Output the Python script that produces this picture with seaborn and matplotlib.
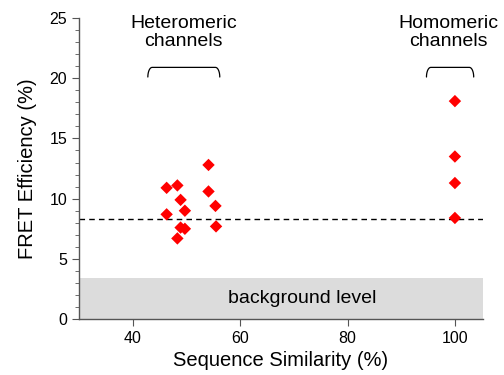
import numpy as np
import pandas as pd
import matplotlib
matplotlib.use("Agg")
import matplotlib.pyplot as plt
import seaborn as sns
from matplotlib.ticker import MultipleLocator

# --- data ---
hetero_x = [54.1, 46.3, 48.3, 54.1, 48.9, 49.7, 55.4, 46.3, 48.9, 49.7, 55.5, 48.3]
hetero_y = [12.8, 10.9, 11.1, 10.6, 9.9, 9.0, 9.4, 8.7, 7.6, 7.5, 7.7, 6.7]
homo_x = [100, 100, 100, 100]
homo_y = [18.1, 13.5, 11.3, 8.4]
threshold = 8.3
background = 3.4
bracket_hetero = (42.8, 56.2)
bracket_homo = (94.7, 103.5)

df = pd.DataFrame({
    "similarity": hetero_x + homo_x,
    "fret": hetero_y + homo_y,
})

sns.set_style("ticks")
plt.rcParams["font.family"] = ["Liberation Sans", "DejaVu Sans"]

fig = plt.figure(figsize=(5.04, 3.75), dpi=100)
ax = fig.add_axes([0.157, 0.149, 0.801, 0.803])

# background band
ax.axhspan(0, background, color="#dcdcdc", lw=0, zorder=0)
ax.text(71.6, background / 2, "background level", ha="center", va="center",
        fontsize=14, color="black")

# threshold line
ax.axhline(threshold, color="black", ls=(0, (4, 3)), lw=1, zorder=1)

sns.scatterplot(data=df, x="similarity", y="fret", marker="D", color="red",
                s=40, edgecolor="none", ax=ax, zorder=3)


def bracket(x0, x1, y0=20.1, y1=20.9, r=0.8):
    t = np.linspace(0, np.pi / 2, 10)
    left_x = x0 + r * (1 - np.cos(t))
    left_y = y0 + (y1 - y0) * np.sin(t)
    right_x = x1 - r * (1 - np.cos(t[::-1]))
    right_y = y0 + (y1 - y0) * np.sin(t[::-1])
    ax.plot(np.r_[left_x, right_x], np.r_[left_y, right_y], color="black", lw=0.9,
            clip_on=False)


bracket(*bracket_hetero)
bracket(*bracket_homo)
ax.text(49.5, 23.8, "Heteromeric\nchannels", ha="center", va="center", fontsize=14,
        linespacing=1.05, color="black")
ax.text(98.7, 23.8, "Homomeric\nchannels", ha="center", va="center", fontsize=14,
        linespacing=1.05, color="black")

ax.set_xlim(30, 105.2)
ax.set_ylim(0, 25)
ax.set_xticks([40, 60, 80, 100])
ax.set_yticks([0, 5, 10, 15, 20, 25])
ax.yaxis.set_minor_locator(MultipleLocator(1))
ax.tick_params(axis="both", which="major", length=5, color="#555555", labelsize=11.5,
               labelcolor="black")
ax.tick_params(axis="y", which="minor", length=3, color="#555555")
ax.set_xlabel("Sequence Similarity (%)", fontsize=14.5, labelpad=4, color="black")
ax.set_ylabel("FRET Efficiency (%)", fontsize=14.5, labelpad=9, color="black")
sns.despine(ax=ax)
for s in ["left", "bottom"]:
    ax.spines[s].set_color("#555555")
    ax.spines[s].set_linewidth(1)

fig.savefig("out.png", dpi=100)
